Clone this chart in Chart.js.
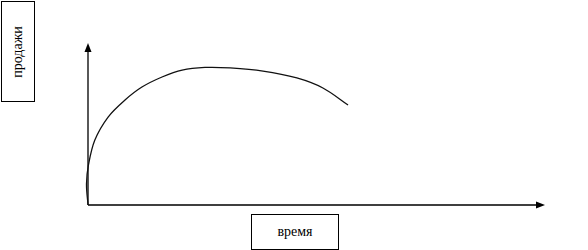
<!DOCTYPE html>
<html>
<head>
<meta charset="utf-8">
<script src="https://cdn.jsdelivr.net/npm/chart.js@4"></script>
<style>
  html, body { margin: 0; padding: 0; background: #fff; }
  #wrap { position: relative; width: 588px; height: 250px; }
  canvas { position: absolute; left: 0; top: 0; }
  .box {
    position: absolute;
    border: 1px solid #000;
    background: #fff;
    font-family: "Liberation Serif", "Times New Roman", serif;
    font-size: 14px;
    color: #000;
    display: flex;
    align-items: center;
    justify-content: center;
    box-sizing: border-box;
  }
  #ylabel { left: 1px; top: 1px; width: 34px; height: 101px; }
  #ylabel span { transform: rotate(-90deg); white-space: nowrap; }
  #xlabel { left: 251px; top: 214px; width: 88px; height: 36px; }
</style>
</head>
<body>
<div id="wrap">
  <canvas id="chart" width="588" height="250"></canvas>
  <div class="box" id="ylabel"><span>продажи</span></div>
  <div class="box" id="xlabel"><span>время</span></div>
</div>
<script>
// curve (axes 0..100 both ways)
const timeValues = [0, -0.33, 0.1, 1.5, 4.4, 8.1, 11.8, 16.2, 20.6, 25.6, 31.1, 38.3, 45.7, 51.4, 56.9];
const salesValues = [0, 13, 24.7, 40.1, 54.3, 64.8, 72.8, 79, 83.3, 84.9, 84.6, 82.7, 78.4, 72.2, 61.7];
const axisMax = 100;

const points = timeValues.map((t, i) => ({ x: t, y: salesValues[i] }));

// draws the two axis lines with arrow heads
const arrowAxes = {
    id: 'arrowAxes',
    beforeDatasetsDraw(chart) {
        const ctx = chart.ctx;
        const xs = chart.scales.x;
        const ys = chart.scales.y;
        const x0 = xs.getPixelForValue(0);
        const y0 = ys.getPixelForValue(0);
        const xEnd = xs.getPixelForValue(axisMax);
        const yEnd = ys.getPixelForValue(axisMax);

        ctx.save();
        ctx.strokeStyle = '#000';
        ctx.fillStyle = '#000';
        ctx.lineWidth = 1.3;
        ctx.beginPath();
        ctx.moveTo(x0, y0);
        ctx.lineTo(xEnd - 6, y0);
        ctx.moveTo(x0, y0);
        ctx.lineTo(x0, yEnd + 6);
        ctx.stroke();

        // x arrow
        ctx.beginPath();
        ctx.moveTo(xEnd, y0);
        ctx.lineTo(xEnd - 9, y0 - 3.5);
        ctx.lineTo(xEnd - 9, y0 + 3.5);
        ctx.closePath();
        ctx.fill();

        // y arrow
        ctx.beginPath();
        ctx.moveTo(x0, yEnd);
        ctx.lineTo(x0 - 3.5, yEnd + 9);
        ctx.lineTo(x0 + 3.5, yEnd + 9);
        ctx.closePath();
        ctx.fill();
        ctx.restore();
    }
};

const ctx = document.getElementById('chart').getContext('2d');
new Chart(ctx, {
    type: 'scatter',
    data: {
        datasets: [{
            data: points,
            showLine: true,
            borderColor: '#111',
            borderWidth: 1.3,
            pointRadius: 0,
            tension: 0.35,
            fill: false,
            clip: false
        }]
    },
    options: {
        responsive: false,
        animation: false,
        layout: {
            padding: { left: 88, right: 43, top: 43, bottom: 45 }
        },
        plugins: {
            legend: { display: false },
            tooltip: { enabled: false }
        },
        scales: {
            x: { type: 'linear', min: 0, max: axisMax, display: false },
            y: { type: 'linear', min: 0, max: axisMax, display: false }
        }
    },
    plugins: [arrowAxes]
});
</script>
</body>
</html>
